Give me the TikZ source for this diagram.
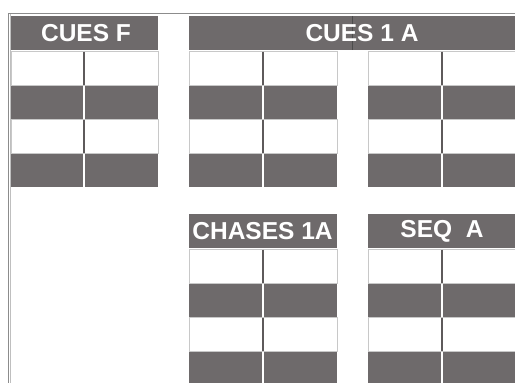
\documentclass[tikz,border=0pt]{standalone}
\usepackage{fontspec}
\setmainfont{Liberation Sans}
\definecolor{dk}{RGB}{110,106,107}
\definecolor{sep}{RGB}{200,200,200}
\begin{document}
\begin{tikzpicture}[x=1pt,y=-1pt,
  hdr/.style={fill=dk,draw=none,inner sep=0pt},
  htxt/.style={font=\fontsize{24.5}{24.5}\selectfont\bfseries,text=white,inner sep=0pt},
  frame/.style={draw=black!45,line width=0.8pt}]
\useasboundingbox (0,0) rectangle (515,383);
\fill[white] (0,0) rectangle (515,383);
% outer frame
\draw[frame] (515,13) -- (8,13) -- (8,383);
\draw[draw=black!25,line width=0.6pt] (10,14) -- (10,383);
% cell groups: x0 x1 xdiv ytop
\newcommand\cellgrp[4]{%
  \foreach \i in {0,1,2,3}{%
    \pgfmathsetmacro\ya{#4+\i*34}%
    \pgfmathsetmacro\yb{#4+\i*34+33.5}%
    \ifodd\i
      \fill[dk] (#1,\ya) rectangle (#2,\yb);
      \draw[white,line width=1.3pt] (#3,\ya) -- (#3,\yb);
    \else
      \draw[sep,fill=white,line width=0.9pt] (#1,\ya) rectangle (#2,\yb);
      \draw[dk!85!black,line width=2pt] (#3,\ya) -- (#3,\yb);
    \fi
  }}
% headers
\node[hdr,minimum width=147pt,minimum height=34pt,anchor=north west] (cf) at (11,16) {};
\node[htxt] (cft) at (86,33.5) {CUES F};
\node[hdr,minimum width=326pt,minimum height=34pt,anchor=north west] (c1) at (189,16) {};
\draw[black!70,line width=0.6pt] (352,16) -- (352,50);
\node[htxt] (c1t) at (362,33.5) {CUES 1 A};
\node[hdr,minimum width=148pt,minimum height=34pt,anchor=north west] (ch) at (189,214) {};
\node[htxt] (cht) at (262.5,231.5) {CHASES 1A};
\node[hdr,minimum width=147pt,minimum height=34pt,anchor=north west] (sq) at (368,214) {};
\node[htxt] (sqt) at (442,231.5) {SEQ\ \ A};
% rows
\cellgrp{11}{158}{84}{51.5}
\cellgrp{189}{337}{263}{51.5}
\cellgrp{368}{515}{442}{51.5}
\cellgrp{189}{337}{263}{249.5}
\cellgrp{368}{515}{442}{249.5}
\end{tikzpicture}
\end{document}
